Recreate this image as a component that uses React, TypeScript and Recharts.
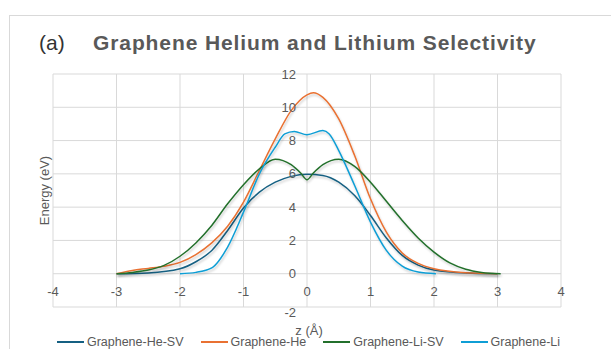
import { LineChart, Line, XAxis, YAxis, CartesianGrid } from 'recharts';

// axis setup
const X_TICKS = [-4, -3, -2, -1, 0, 1, 2, 3, 4];
const Y_TICKS = [-2, 0, 2, 4, 6, 8, 10, 12];

// Graphene-He-SV
const HE_SV_Z = [-3, -2.5, -2, -1.75, -1.5, -1.25, -1, -0.75, -0.5, -0.25, 0, 0.25, 0.5, 0.75, 1, 1.25, 1.5, 1.75, 2, 2.5, 3];
const HE_SV_E = [0, 0.05, 0.3, 0.72, 1.4, 2.6, 3.95, 4.9, 5.5, 5.85, 5.98, 5.9, 5.5, 4.7, 3.5, 2.15, 1.1, 0.52, 0.22, 0.04, 0];

// Graphene-He
const HE_Z = [-3, -2.75, -2.5, -2.25, -2, -1.75, -1.5, -1.25, -1, -0.75, -0.5, -0.25, 0, 0.1, 0.25, 0.5, 0.75, 1, 1.25, 1.5, 1.75, 2, 2.5, 3];
const HE_E = [0, 0.2, 0.32, 0.45, 0.68, 1.15, 1.85, 2.85, 4.3, 6.2, 8.1, 9.8, 10.75, 10.88, 10.6, 9.3, 7.1, 4.5, 2.5, 1.25, 0.62, 0.3, 0.06, 0];

// Graphene-Li-SV
const LI_SV_Z = [-3, -2.75, -2.5, -2.25, -2, -1.75, -1.5, -1.25, -1, -0.75, -0.5, -0.25, -0.1, 0, 0.1, 0.25, 0.5, 0.75, 1, 1.25, 1.5, 1.75, 2, 2.25, 2.5, 2.75, 3.05];
const LI_SV_E = [0, 0.08, 0.22, 0.5, 1.05, 1.85, 2.9, 4.2, 5.35, 6.3, 6.88, 6.55, 6.05, 5.65, 6.05, 6.55, 6.88, 6.45, 5.5, 4.35, 3.2, 2.15, 1.3, 0.65, 0.27, 0.08, 0];

// Graphene-Li
const LI_Z = [-2, -1.75, -1.5, -1.25, -1, -0.75, -0.5, -0.35, -0.2, 0, 0.25, 0.35, 0.5, 0.75, 1, 1.25, 1.5, 1.75, 2.03];
const LI_E = [0, 0.08, 0.35, 1.6, 3.7, 6.0, 7.6, 8.4, 8.55, 8.35, 8.6, 8.4, 7.4, 5.3, 3.1, 1.4, 0.45, 0.1, 0];

const toPoints = (zs: number[], es: number[]) => zs.map((z, i) => ({ z, e: es[i] }));

const SERIES = [
  { name: 'Graphene-He-SV', color: '#156082', data: toPoints(HE_SV_Z, HE_SV_E) },
  { name: 'Graphene-He', color: '#E97132', data: toPoints(HE_Z, HE_E) },
  { name: 'Graphene-Li-SV', color: '#23702C', data: toPoints(LI_SV_Z, LI_SV_E) },
  { name: 'Graphene-Li', color: '#0F9ED5', data: toPoints(LI_Z, LI_E) },
];

const W = 611;
const H = 349;
const PLOT = { left: 53, top: 74, right: 561, bottom: 307 };
const MARGIN = { top: PLOT.top, right: W - PLOT.right, bottom: 12, left: 13 };
const Y_AXIS_W = PLOT.left - MARGIN.left;
const X_AXIS_H = H - MARGIN.bottom - PLOT.bottom;
const X_MIN = -4, X_MAX = 4, Y_MIN = -2, Y_MAX = 12;
const ZERO_X = PLOT.left + ((PLOT.right - PLOT.left) * (0 - X_MIN)) / (X_MAX - X_MIN);
const ZERO_Y = PLOT.top + ((PLOT.bottom - PLOT.top) * (Y_MAX - 0)) / (Y_MAX - Y_MIN);

const FONT = '"Liberation Sans", Arial, sans-serif';
const GREY = '#595959';

const XTick = (props: any) => (
  <text x={props.x} y={ZERO_Y + 18} dy="0.35em" textAnchor="middle" fill={GREY} fontSize={13} fontFamily={FONT}>
    {props.payload.value}
  </text>
);

const YTick = (props: any) => (
  <text
    x={ZERO_X - 11}
    y={props.y + (props.payload.value === Y_MIN ? 5 : 0)}
    dy="0.35em"
    textAnchor="end"
    fill={GREY}
    fontSize={13}
    fontFamily={FONT}
  >
    {props.payload.value}
  </text>
);

export default function App() {
  return (
    <div style={{ position: 'absolute', left: 0, top: 0, width: W, height: H, overflow: 'hidden', background: '#fff' }}>
      <svg width={0} height={0} style={{ position: 'absolute' }}>
        <defs>
          <filter id="lineShadow" x="-10%" y="-10%" width="120%" height="130%">
            <feDropShadow dx="1" dy="2" stdDeviation="1.2" floodColor="#000" floodOpacity="0.2" />
          </filter>
        </defs>
      </svg>
      <div style={{ position: 'absolute', left: 9, top: 15, width: 700, height: 400, border: '1px solid #d9d9d9' }} />
      <div style={{ position: 'absolute', left: 0, top: 0 }}>
        <LineChart width={W} height={H} margin={MARGIN}>
          <CartesianGrid stroke="#d9d9d9" strokeWidth={1} />
          <XAxis
            dataKey="z"
            type="number"
            domain={[X_MIN, X_MAX]}
            ticks={X_TICKS}
            height={X_AXIS_H}
            axisLine={false}
            tickLine={false}
            tick={XTick}
            allowDataOverflow
          />
          <YAxis
            type="number"
            domain={[Y_MIN, Y_MAX]}
            ticks={Y_TICKS}
            width={Y_AXIS_W}
            axisLine={false}
            tickLine={false}
            tick={YTick}
            allowDataOverflow
          />
          {SERIES.map(s => (
            <Line
              key={s.name}
              data={s.data}
              dataKey="e"
              name={s.name}
              type="monotone"
              stroke={s.color}
              strokeWidth={1.5}
              dot={false}
              activeDot={false}
              filter="url(#lineShadow)"
              isAnimationActive={false}
            />
          ))}
        </LineChart>
      </div>
      <svg width={W} height={H} style={{ position: 'absolute', left: 0, top: 0, pointerEvents: 'none' }}>
        <text x={39} y={50} fontSize={21} fill="#333" fontFamily={FONT}>(a)</text>
        <text x={93} y={50} fontSize={21} fontWeight="bold" fill={GREY} fontFamily={FONT} letterSpacing={0.9}>
          Graphene Helium and Lithium Selectivity
        </text>
        <text
          x={44}
          y={(PLOT.top + PLOT.bottom) / 2}
          dy="0.35em"
          transform={`rotate(-90 44 ${(PLOT.top + PLOT.bottom) / 2})`}
          textAnchor="middle"
          fontSize={13}
          fill={GREY}
          fontFamily={FONT}
        >
          Energy (eV)
        </text>
        <text x={ZERO_X + 2} y={335} textAnchor="middle" fontSize={13} fill={GREY} fontFamily={FONT}>
          z (Å)
        </text>
      </svg>
      <div
        style={{
          position: 'absolute',
          left: 0,
          top: 335,
          width: W,
          display: 'flex',
          justifyContent: 'center',
          gap: 17,
          fontFamily: FONT,
          fontSize: 12.5,
          color: GREY,
          lineHeight: '14px',
          paddingLeft: 6,
          boxSizing: 'border-box',
        }}
      >
        {SERIES.map(s => (
          <div key={s.name} style={{ display: 'flex', alignItems: 'center', whiteSpace: 'nowrap' }}>
            <span style={{ display: 'inline-block', width: 27, height: 2, background: s.color, marginRight: 3 }} />
            <span>{s.name}</span>
          </div>
        ))}
      </div>
    </div>
  );
}
